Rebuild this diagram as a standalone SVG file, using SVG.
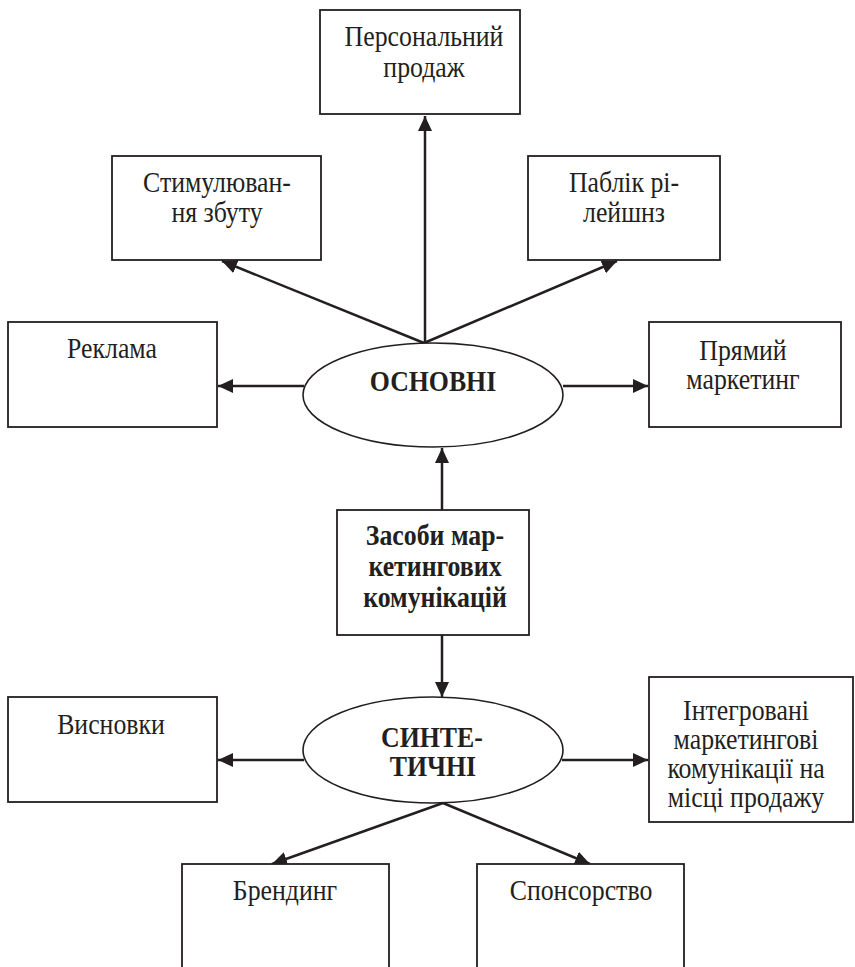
<svg xmlns="http://www.w3.org/2000/svg" width="855" height="967" viewBox="0 0 855 967">
<style>
.box{fill:#fff;stroke:#231f20;stroke-width:1.8}
.ell{fill:#fff;stroke:#231f20;stroke-width:1.6}
.t{font-family:"Liberation Serif","Times New Roman",serif;font-size:29px;fill:#231f20;text-anchor:middle}
.b{font-weight:bold}
.c{stroke:#231f20;stroke-width:2.5;fill:none}
</style>
<defs>
<marker id="ah" markerUnits="userSpaceOnUse" markerWidth="16" markerHeight="14" refX="15" refY="7" orient="auto">
<path d="M0,0 L15,7 L0,14 z" fill="#231f20"/>
</marker>
</defs>
<rect width="855" height="967" fill="#fff"/>
<g id="connectors">
<line class="c" x1="425" y1="343" x2="425" y2="116" marker-end="url(#ah)"/>
<line class="c" x1="424" y1="343" x2="222" y2="261" marker-end="url(#ah)"/>
<line class="c" x1="424" y1="343" x2="617" y2="261" marker-end="url(#ah)"/>
<line class="c" x1="304" y1="386" x2="218" y2="386" marker-end="url(#ah)"/>
<line class="c" x1="563" y1="386" x2="648" y2="386" marker-end="url(#ah)"/>
<line class="c" x1="442" y1="510" x2="442" y2="448" marker-end="url(#ah)"/>
<line class="c" x1="442" y1="635" x2="442" y2="697" marker-end="url(#ah)"/>
<line class="c" x1="304" y1="760" x2="218" y2="760" marker-end="url(#ah)"/>
<line class="c" x1="562" y1="760" x2="648" y2="760" marker-end="url(#ah)"/>
<line class="c" x1="443" y1="803" x2="272" y2="864" marker-end="url(#ah)"/>
<line class="c" x1="443" y1="803" x2="590" y2="864" marker-end="url(#ah)"/>
</g>
<g id="personal">
<rect class="box" x="320" y="10" width="200" height="104"/>
<text class="t" transform="translate(424,46) scale(0.89,1)">Персональний</text>
<text class="t" transform="translate(424,77) scale(0.89,1)">продаж</text>
</g>
<g id="stimul">
<rect class="box" x="112" y="156" width="209" height="104"/>
<text class="t" transform="translate(217,192) scale(0.89,1)">Стимулюван-</text>
<text class="t" transform="translate(217,222) scale(0.89,1)">ня збуту</text>
</g>
<g id="pr">
<rect class="box" x="528" y="156" width="192" height="104"/>
<text class="t" transform="translate(624,192) scale(0.89,1)">Паблік рі-</text>
<text class="t" transform="translate(624,222) scale(0.89,1)">лейшнз</text>
</g>
<g id="reklama">
<rect class="box" x="8" y="322" width="209" height="105"/>
<text class="t" transform="translate(112,358) scale(0.89,1)">Реклама</text>
</g>
<g id="osnovni">
<ellipse class="ell" cx="433" cy="395" rx="130" ry="52"/>
<text class="t b" transform="translate(433,391) scale(0.89,1)">ОСНОВНІ</text>
</g>
<g id="direct">
<rect class="box" x="649" y="322" width="192" height="105"/>
<text class="t" transform="translate(743,360) scale(0.89,1)">Прямий</text>
<text class="t" transform="translate(743,389) scale(0.89,1)">маркетинг</text>
</g>
<g id="zasoby">
<rect class="box" x="337" y="510" width="192" height="125"/>
<text class="t b" transform="translate(435,545) scale(0.89,1)">Засоби мар-</text>
<text class="t b" transform="translate(435,576) scale(0.89,1)">кетингових</text>
<text class="t b" transform="translate(435,607) scale(0.89,1)">комунікацій</text>
</g>
<g id="vysnovky">
<rect class="box" x="8" y="697" width="209" height="105"/>
<text class="t" transform="translate(111,734) scale(0.89,1)">Висновки</text>
</g>
<g id="syntetychni">
<ellipse class="ell" cx="433" cy="750" rx="130" ry="53"/>
<text class="t b" transform="translate(432,747) scale(0.89,1)">СИНТЕ-</text>
<text class="t b" transform="translate(433,776) scale(0.89,1)">ТИЧНІ</text>
</g>
<g id="integrated">
<rect class="box" x="649" y="677" width="204" height="145"/>
<text class="t" transform="translate(746,720) scale(0.89,1)">Інтегровані</text>
<text class="t" transform="translate(746,749) scale(0.89,1)">маркетингові</text>
<text class="t" transform="translate(746,778) scale(0.89,1)">комунікації на</text>
<text class="t" transform="translate(746,807) scale(0.89,1)">місці продажу</text>
</g>
<g id="branding">
<rect class="box" x="182" y="864" width="207" height="120"/>
<text class="t" transform="translate(285,900) scale(0.89,1)">Брендинг</text>
</g>
<g id="sponsor">
<rect class="box" x="477" y="864" width="207" height="120"/>
<text class="t" transform="translate(581,900) scale(0.89,1)">Спонсорство</text>
</g>
</svg>
